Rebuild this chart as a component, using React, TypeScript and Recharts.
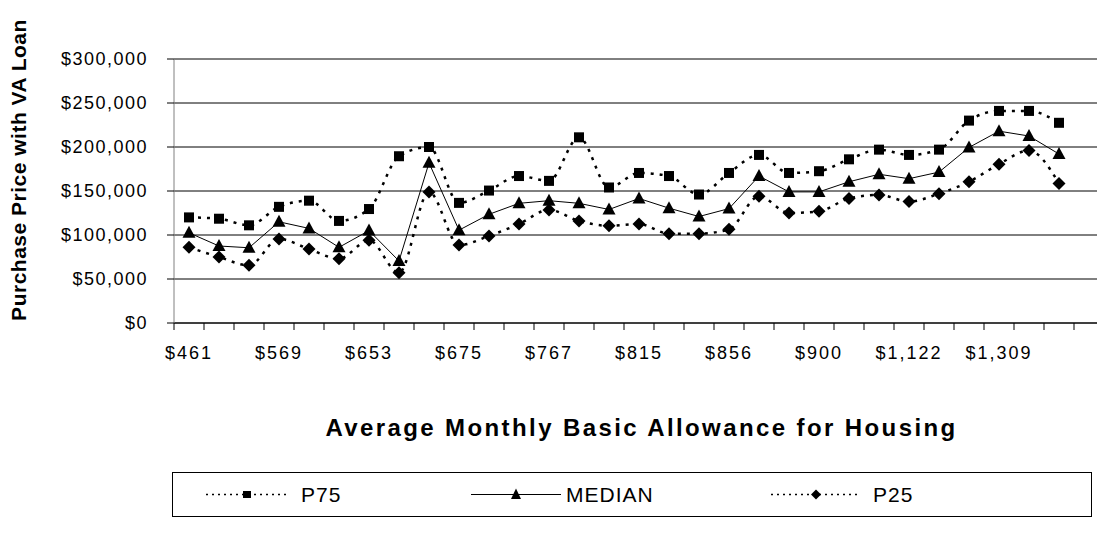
import React from 'react';
import { LineChart, Line, XAxis, YAxis, CartesianGrid, Legend, Label } from 'recharts';

// ---- data ----
const tickLabels = ['$461', '$569', '$653', '$675', '$767', '$815', '$856', '$900', '$1,122', '$1,309'];
const categories = Array.from({ length: 30 }, (_, i) => i);
const p75 = [120000, 118500, 111000, 132000, 139000, 116000, 129500, 189500, 200000, 136500,
  150500, 167000, 161500, 211000, 154000, 170500, 167000, 146000, 170500, 191000,
  170500, 172500, 186000, 197000, 191000, 197000, 230000, 241000, 241000, 227500];
const median = [102500, 87500, 85500, 115000, 107500, 86000, 105000, 70500, 182000, 105500,
  123500, 136000, 139000, 136000, 129000, 141500, 130500, 121000, 130000, 167000,
  149000, 149000, 160500, 169000, 164000, 171500, 199500, 218000, 212500, 192000];
const p25 = [86000, 75000, 65500, 95500, 84000, 73000, 94000, 57000, 149000, 88500,
  99000, 112500, 128500, 116000, 110500, 112500, 101500, 101500, 106500, 144000,
  125000, 127000, 141500, 145500, 138000, 147000, 160500, 180500, 196000, 158500];
const yTicks = [0, 50000, 100000, 150000, 200000, 250000, 300000];

const data = categories.map((c, i) => ({ cat: c, P75: p75[i], MEDIAN: median[i], P25: p25[i] }));

// ---- layout ----
const W = 1097;
const H = 536;
const PLOT_LEFT = 174;
const PLOT_TOP = 59;
const PAD_RIGHT = 23;
const BAND = (W - PLOT_LEFT - PAD_RIGHT) / categories.length;
const FONT = '"Liberation Sans", Arial, sans-serif';

const fmtMoney = (v: number) => '$' + v.toLocaleString('en-US');

const XTick = (props: any) => {
  const { x, y, payload } = props;
  const i = payload.value as number;
  const half = BAND / 2;
  const label = i % 3 === 0 ? tickLabels[i / 3] : '';
  return (
    <g>
      <line x1={x - half} x2={x - half} y1={y} y2={y + 7} stroke="#000" strokeWidth={1} />
      {i === categories.length - 1 && (
        <line x1={x + half} x2={x + half} y1={y} y2={y + 7} stroke="#000" strokeWidth={1} />
      )}
      {label && (
        <text x={x} y={y + 36} textAnchor="middle" fontFamily={FONT} fontSize={18} letterSpacing={2} fill="#000">
          {label}
        </text>
      )}
    </g>
  );
};

const SquareDot = (props: any) => {
  const { cx, cy, index } = props;
  if (cx == null || cy == null) return <g key={index} />;
  return <rect key={index} x={cx - 5} y={cy - 5} width={10} height={10} fill="#000" />;
};
const TriangleDot = (props: any) => {
  const { cx, cy, index } = props;
  if (cx == null || cy == null) return <g key={index} />;
  return <path key={index} d={`M${cx},${cy - 7} L${cx + 6.5},${cy + 5} L${cx - 6.5},${cy + 5} Z`} fill="#000" />;
};
const DiamondDot = (props: any) => {
  const { cx, cy, index } = props;
  if (cx == null || cy == null) return <g key={index} />;
  return <path key={index} d={`M${cx},${cy - 6.5} L${cx + 6.5},${cy} L${cx},${cy + 6.5} L${cx - 6.5},${cy} Z`} fill="#000" />;
};

const renderLegend = () => (
  <div style={{ width: 920, height: 45, boxSizing: 'border-box', border: '1px solid #000', background: '#fff' }}>
    <svg width={918} height={43} style={{ display: 'block' }}>
      <line x1={33} x2={115} y1={21.5} y2={21.5} stroke="#000" strokeWidth={1.5} strokeDasharray="2 4" />
      <rect x={70} y={18} width={8} height={7} fill="#000" />
      <text x={128} y={29} fontFamily={FONT} fontSize={21} letterSpacing={1} fill="#000">P75</text>

      <line x1={298} x2={388} y1={21.5} y2={21.5} stroke="#000" strokeWidth={1} />
      <path d="M343,15.5 L348,26 L338,26 Z" fill="#000" />
      <text x={393} y={29} fontFamily={FONT} fontSize={21} letterSpacing={1} fill="#000">MEDIAN</text>

      <line x1={598} x2={688} y1={21.5} y2={21.5} stroke="#000" strokeWidth={1.5} strokeDasharray="2 4" />
      <path d="M643,16.5 L648,21.5 L643,26.5 L638,21.5 Z" fill="#000" />
      <text x={700} y={29} fontFamily={FONT} fontSize={21} letterSpacing={1} fill="#000">P25</text>
    </svg>
  </div>
);

export default function App() {
  return (
    <div style={{ position: 'absolute', left: 0, top: 0, width: W, height: H, background: '#fff', overflow: 'hidden' }}>
      <LineChart width={W} height={H} data={data} margin={{ top: PLOT_TOP, right: 0, left: 0, bottom: 19 }}>
        <CartesianGrid horizontal vertical={false} stroke="#000" strokeOpacity={1} />
        <XAxis
          dataKey="cat"
          type="category"
          scale="band"
          interval={0}
          height={149}
          padding={{ left: 0, right: PAD_RIGHT }}
          axisLine={{ stroke: '#000' }}
          tickLine={false}
          tickSize={0}
          tickMargin={0}
          tick={<XTick />}
        >
          <Label
            content={() => (
              <text x={PLOT_LEFT + (W - PLOT_LEFT) / 2 + 6} y={436} textAnchor="middle" fontFamily={FONT} fontSize={24} fontWeight="bold" letterSpacing={2.4} fill="#000">
                Average Monthly Basic Allowance for Housing
              </text>
            )}
          />
        </XAxis>
        <YAxis
          width={PLOT_LEFT}
          domain={[0, 300000]}
          ticks={yTicks}
          interval={0}
          tickFormatter={fmtMoney}
          axisLine={{ stroke: '#808080' }}
          tickLine={{ stroke: '#000' }}
          tickSize={7}
          tickMargin={19}
          tick={{ fontFamily: FONT, fontSize: 18, fill: '#000', letterSpacing: 1.5 }}
        >
          <Label
            content={() => (
              <text
                x={18}
                y={170}
                transform="rotate(-90, 18, 170)"
                textAnchor="middle"
                dominantBaseline="central"
                fontFamily={FONT}
                fontSize={21}
                fontWeight="bold"
                letterSpacing={0.5}
                fill="#000"
              >
                Purchase Price with VA Loan
              </text>
            )}
          />
        </YAxis>
        <Legend
          verticalAlign="bottom"
          content={renderLegend}
          wrapperStyle={{ left: 172, width: 920, bottom: 19 }}
        />
        <Line
          dataKey="P75"
          type="monotone"
          stroke="#000"
          strokeWidth={2.5}
          strokeDasharray="3 6"
          dot={<SquareDot />}
          isAnimationActive={false}
        />
        <Line
          dataKey="MEDIAN"
          type="linear"
          stroke="#000"
          strokeWidth={1}
          dot={<TriangleDot />}
          isAnimationActive={false}
        />
        <Line
          dataKey="P25"
          type="monotone"
          stroke="#000"
          strokeWidth={2.5}
          strokeDasharray="3 6"
          dot={<DiamondDot />}
          isAnimationActive={false}
        />
      </LineChart>
    </div>
  );
}
